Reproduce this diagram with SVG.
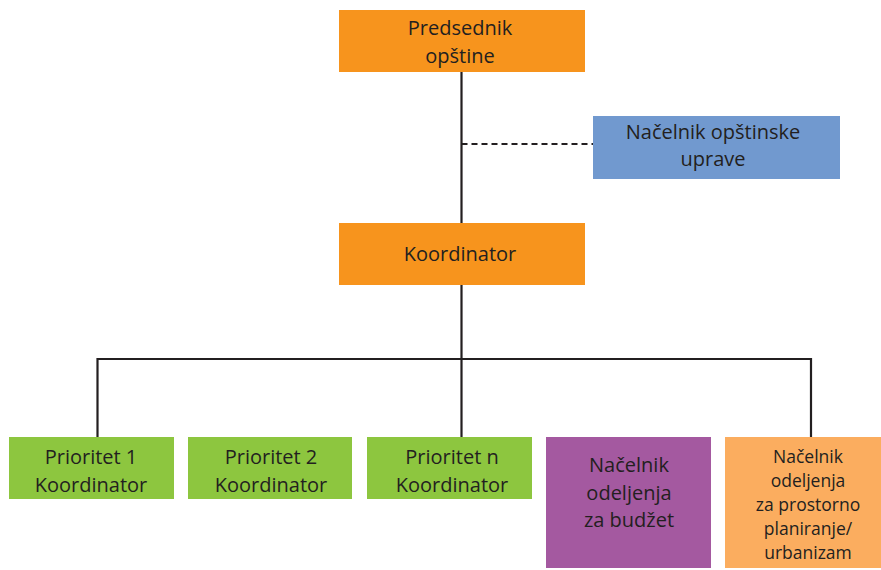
<svg xmlns="http://www.w3.org/2000/svg" width="881" height="570" viewBox="0 0 881 570">
<style>
text{font-family:"Open Sans","Noto Sans","Liberation Sans",sans-serif;font-size:20px;fill:#231f20;text-anchor:middle}
text.sm{font-size:17.5px}
.ln{stroke:#231f20;stroke-width:2.2;fill:none}
.dash{stroke:#231f20;stroke-width:2;stroke-dasharray:6 4;fill:none}
</style>
<rect width="881" height="570" fill="#fff"/>
<g id="connectors">
<line class="ln" x1="461.5" y1="72" x2="461.5" y2="223"/>
<line class="dash" x1="461.5" y1="144" x2="593" y2="144"/>
<line class="ln" x1="461.5" y1="285" x2="461.5" y2="437"/>
<polyline class="ln" points="97.5,437 97.5,359 811,359 811,437"/>
</g>
<g id="predsednik">
<rect x="339" y="10" width="246" height="62" fill="#f7941d"/>
<text x="460" y="35">Predsednik<tspan x="460" dy="28">opštine</tspan></text>
</g>
<g id="nacelnik-uprave">
<rect x="593" y="116" width="247" height="63" fill="#7199cf"/>
<text x="713" y="139">Načelnik opštinske<tspan x="713" dy="27">uprave</tspan></text>
</g>
<g id="koordinator">
<rect x="339" y="223" width="246" height="62" fill="#f7941d"/>
<text x="460" y="261">Koordinator</text>
</g>
<g id="prioritet1">
<rect x="9" y="437" width="165" height="62" fill="#8dc63f"/>
<text x="91" y="464">Prioritet 1<tspan x="91" dy="28">Koordinator</tspan></text>
</g>
<g id="prioritet2">
<rect x="188" y="437" width="164" height="62" fill="#8dc63f"/>
<text x="271" y="464">Prioritet 2<tspan x="271" dy="28">Koordinator</tspan></text>
</g>
<g id="prioritetn">
<rect x="367" y="437" width="165" height="62" fill="#8dc63f"/>
<text x="452" y="464">Prioritet n<tspan x="452" dy="28">Koordinator</tspan></text>
</g>
<g id="nacelnik-budzet">
<rect x="546" y="437" width="165" height="131" fill="#a459a0"/>
<text x="629" y="472">Načelnik<tspan x="629" dy="28">odeljenja</tspan><tspan x="629" dy="27">za budžet</tspan></text>
</g>
<g id="nacelnik-urbanizam">
<rect x="725" y="437" width="165" height="131" fill="#fbad5f"/>
<text class="sm" x="808" y="463">Načelnik<tspan x="808" dy="24">odeljenja</tspan><tspan x="808" dy="24">za prostorno</tspan><tspan x="808" dy="24">planiranje/</tspan><tspan x="808" dy="24">urbanizam</tspan></text>
</g>
</svg>
